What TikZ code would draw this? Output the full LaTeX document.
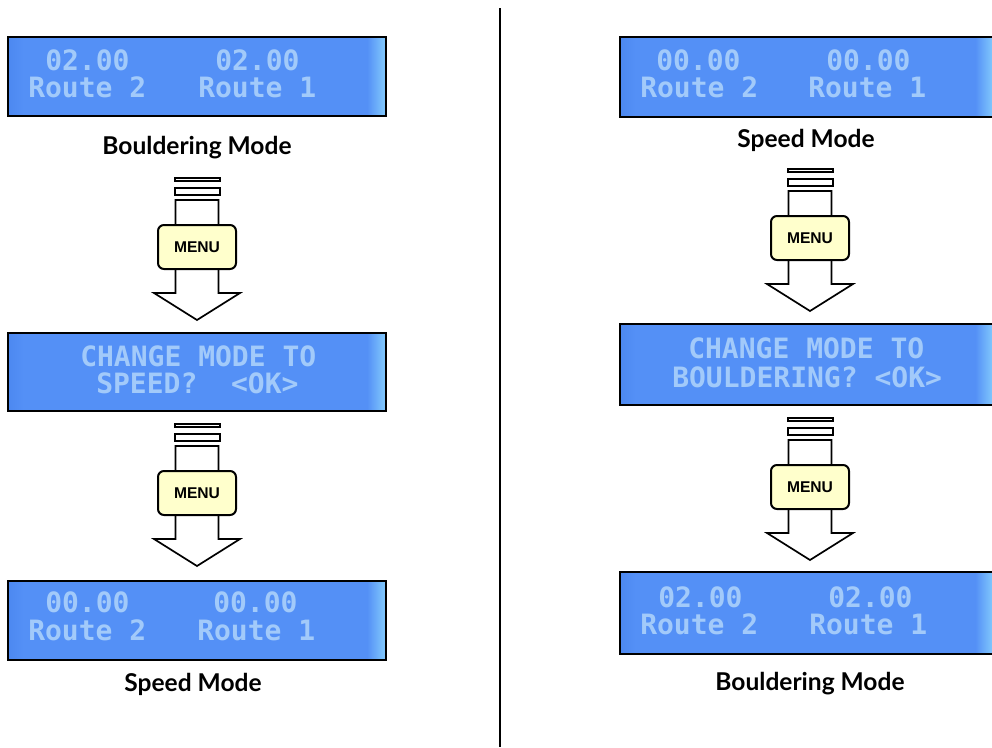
\documentclass[tikz,border=0pt]{standalone}
\usepackage{fontspec}
\setmainfont{Lato}
\newfontfamily\lcdfont{DejaVu Sans Mono}
\newfontfamily\btnfont{Liberation Sans}
\definecolor{lcdbase}{RGB}{84,144,246}
\definecolor{lcddark}{RGB}{76,136,240}
\definecolor{lcdglow}{RGB}{125,195,252}
\definecolor{lcdtext}{RGB}{162,202,250}
\definecolor{btnfill}{RGB}{255,255,204}
\pgfdeclarehorizontalshading{lcdshade}{100bp}{
  color(0bp)=(lcddark); color(25bp)=(lcddark); color(27bp)=(lcdbase); color(50bp)=(lcdbase);
  color(72.5bp)=(lcdbase); color(74.6bp)=(lcdglow); color(75bp)=(lcdglow); color(100bp)=(lcdglow)}
\newdimen\px \px=0.75pt
\tikzset{
  x=0.75pt, y=-0.75pt,
  lcdbox/.style={draw=black, line width=1.5\px, shading=lcdshade, inner sep=0pt, minimum width=#1*\px},
  lcdline/.style={anchor=base west, inner sep=0pt, text=lcdtext, font=\lcdfont\bfseries\fontsize{21}{21}\selectfont},
  modelabel/.style={inner sep=0pt, text=black, font=\bfseries\fontsize{18.4}{22}\selectfont},
  btn/.style={draw=black, line width=2\px, fill=btnfill, rounded corners=6\px, minimum width=78\px, minimum height=44\px, inner sep=0pt, font=\btnfont\bfseries\fontsize{11.7}{14}\selectfont},
  arrowline/.style={draw=black, line width=1.7\px, line join=miter, fill=white},
  barline/.style={draw=black, line width=2\px, fill=white},
}
% name, centre x, top y
\newcommand{\menuarrow}[3]{%
  \begin{scope}[shift={(#2,#3)}]
    \path[barline] (-22.5,1) rectangle (22.5,4);
    \path[barline] (-22.5,11) rectangle (22.5,18);
    \path[arrowline] (-21.5,23) -- (21.5,23) -- (21.5,116) -- (43,116) -- (0,143) -- (-43,116) -- (-21.5,116) -- cycle;
    \node[btn] (#1) at (0,70) {MENU};
  \end{scope}}
\begin{document}
\begin{tikzpicture}
\useasboundingbox (0,0) rectangle (992,747);
\fill[white] (0,0) rectangle (992,747);

\node[lcdbox=378, minimum height=79\px] (l1) at (197,76.5) {};
\node[lcdline] (l1a) at (45,70) {02.00};
\node[lcdline] (l1b) at (215,70) {02.00};
\node[lcdline] (l1c) at (28,97) {Route 2};
\node[lcdline] (l1d) at (198,97) {Route 1};
\node[modelabel] (l1t) at (197,148) {Bouldering Mode};
\menuarrow{l1m}{197}{177}

\node[lcdbox=378, minimum height=78\px] (l2) at (197,372) {};
\node[lcdline] (l2a) at (80,366) {CHANGE MODE TO};
\node[lcdline] (l2b) at (96,393) {SPEED?\ \ <OK>};
\menuarrow{l2m}{197}{423}

\node[lcdbox=378, minimum height=79\px] (l3) at (197,620.5) {};
\node[lcdline] (l3a) at (45,612) {00.00};
\node[lcdline] (l3b) at (213,612) {00.00};
\node[lcdline] (l3c) at (28,640) {Route 2};
\node[lcdline] (l3d) at (197,640) {Route 1};
\node[modelabel] (l3t) at (193,684) {Speed Mode};

\draw[line width=2\px] (500,8) coordinate (divtop) -- (500,747) coordinate (divbot);

\node[lcdbox=374, minimum height=80\px] (r1) at (807,77) {};
\node[lcdline] (r1a) at (656,70) {00.00};
\node[lcdline] (r1b) at (826,70) {00.00};
\node[lcdline] (r1c) at (640,97) {Route 2};
\node[lcdline] (r1d) at (808,97) {Route 1};
\node[modelabel] (r1t) at (806,140) {Speed Mode};
\menuarrow{r1m}{810}{168}

\node[lcdbox=374, minimum height=81\px] (r2) at (807,364.5) {};
\node[lcdline] (r2a) at (688,358) {CHANGE MODE TO};
\node[lcdline] (r2b) at (672,387) {BOULDERING? <OK>};
\menuarrow{r2m}{810}{417}

\node[lcdbox=374, minimum height=82\px] (r3) at (807,613) {};
\node[lcdline] (r3a) at (658,607) {02.00};
\node[lcdline] (r3b) at (828,607) {02.00};
\node[lcdline] (r3c) at (640,634) {Route 2};
\node[lcdline] (r3d) at (809,634) {Route 1};
\node[modelabel] (r3t) at (810,684) {Bouldering Mode};
\end{tikzpicture}
\end{document}
